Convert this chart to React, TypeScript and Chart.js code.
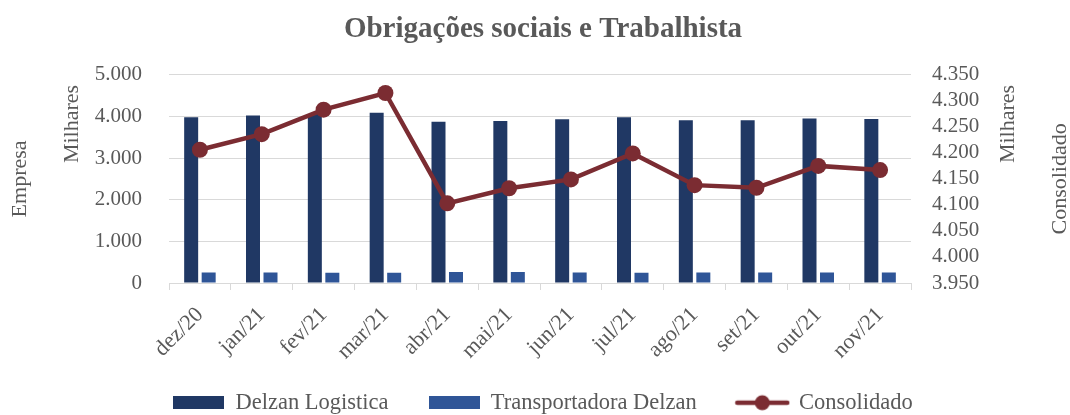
import React, { useEffect, useRef } from 'react';
import { Chart, registerables } from 'chart.js';

Chart.register(...registerables);

const categories = ['dez/20', 'jan/21', 'fev/21', 'mar/21', 'abr/21', 'mai/21', 'jun/21', 'jul/21', 'ago/21', 'set/21', 'out/21', 'nov/21'];
const delzanLogistica = [3980, 4020, 4060, 4090, 3870, 3890, 3930, 3980, 3910, 3910, 3950, 3940];
const transportadoraDelzan = [250, 250, 245, 245, 266, 266, 250, 245, 250, 250, 250, 250];
const consolidado = [4206, 4236, 4283, 4315, 4103, 4132, 4149, 4199, 4138, 4133, 4175, 4167];
const seriesNames = ['Delzan Logistica', 'Transportadora Delzan', 'Consolidado'];
const leftAxisRange = [0, 5000, 1000];
const rightAxisRange = [3950, 4350, 50];
const axisTitles = ['Empresa', 'Milhares', 'Milhares', 'Consolidado'];
const chartTitle = 'Obrigações sociais e Trabalhista';

const COLORS = ['#203864', '#2F5597', '#7B2C32'];
const TEXT = '#595959';
const GRID = '#D9D9D9';
const FONT = "'Liberation Serif', 'Times New Roman', serif";

Chart.defaults.font.family = FONT;
Chart.defaults.color = TEXT;

const fmt = (v: number) => Math.round(v).toString().replace(/\B(?=(\d{3})+(?!\d))/g, '.');

function makeBoxImage(color: string) {
  const c = document.createElement('canvas');
  c.width = 51;
  c.height = 13;
  const g = c.getContext('2d')!;
  g.fillStyle = color;
  g.fillRect(0, 0, 51, 13);
  return c;
}

function makeLineImage(color: string) {
  const c = document.createElement('canvas');
  c.width = 56;
  c.height = 18;
  const g = c.getContext('2d')!;
  g.strokeStyle = color;
  g.lineWidth = 4.5;
  g.lineCap = 'round';
  g.beginPath();
  g.moveTo(3, 9);
  g.lineTo(53, 9);
  g.stroke();
  g.fillStyle = color;
  g.beginPath();
  g.arc(28, 9, 7.5, 0, Math.PI * 2);
  g.fill();
  return c;
}

const sideLabels = {
  id: 'sideLabels',
  afterDraw(chart: any) {
    const { ctx, chartArea } = chart;
    const midY = (chartArea.top + chartArea.bottom) / 2;
    const items: [string, number, number][] = [
      [axisTitles[0], 20, midY],
      [axisTitles[1], 72, 124],
      [axisTitles[2], 1008, 124],
      [axisTitles[3], 1060, midY],
    ];
    ctx.save();
    ctx.font = `22px ${FONT}`;
    ctx.fillStyle = TEXT;
    ctx.textAlign = 'center';
    ctx.textBaseline = 'middle';
    for (const [t, x, y] of items) {
      ctx.save();
      ctx.translate(x, y);
      ctx.rotate(-Math.PI / 2);
      ctx.fillText(t, 0, 0);
      ctx.restore();
    }
    ctx.restore();
  },
};

export default function App() {
  const ref = useRef<HTMLCanvasElement>(null);

  useEffect(() => {
    document.body.style.margin = '0';
    const legendImages = [makeBoxImage(COLORS[0]), makeBoxImage(COLORS[1]), makeLineImage(COLORS[2])];
    const legendPad = 40;
    const legendFont = 22.5;
    const padLeft = 16;
    const chart = new Chart(ref.current!, {
      type: 'bar',
      data: {
        labels: categories,
        datasets: [
          {
            type: 'line',
            label: seriesNames[2],
            data: consolidado,
            yAxisID: 'y1',
            borderColor: COLORS[2],
            backgroundColor: COLORS[2],
            borderWidth: 4.5,
            pointRadius: 8,
            pointBorderWidth: 0,
            pointBackgroundColor: COLORS[2],
            tension: 0,
            order: 0,
          } as any,
          {
            label: seriesNames[0],
            data: delzanLogistica,
            yAxisID: 'y',
            backgroundColor: COLORS[0],
            categoryPercentage: 0.566,
            barPercentage: 0.8,
            order: 1,
          },
          {
            label: seriesNames[1],
            data: transportadoraDelzan,
            yAxisID: 'y',
            backgroundColor: COLORS[1],
            categoryPercentage: 0.566,
            barPercentage: 0.8,
            order: 1,
          },
        ],
      },
      options: {
        responsive: false,
        animation: false,
        layout: { padding: { left: padLeft, right: 0, top: 0, bottom: -9 } },
        plugins: {
          title: {
            display: true,
            text: chartTitle,
            color: TEXT,
            font: { family: FONT, size: 29, weight: 'bold' },
            padding: { top: 12, bottom: 28 },
          },
          legend: {
            position: 'bottom',
            labels: {
              usePointStyle: true,
              pointStyleWidth: 51,
              padding: legendPad,
              color: TEXT,
              font: { family: FONT, size: legendFont },
              sort: (a: any, b: any) => {
                const order = [1, 2, 0];
                return order.indexOf(a.datasetIndex) - order.indexOf(b.datasetIndex);
              },
              generateLabels: (ch: any) => {
                const items = (Chart as any).defaults.plugins.legend.labels.generateLabels(ch);
                return items.map((it: any) => ({
                  ...it,
                  pointStyle: legendImages[it.datasetIndex === 0 ? 2 : it.datasetIndex - 1],
                }));
              },
            },
          },
          tooltip: { enabled: false },
        },
        scales: {
          x: {
            grid: {
              drawOnChartArea: false,
              drawTicks: true,
              tickLength: 7,
              color: GRID,
              offset: true,
            },
            border: { color: GRID },
            ticks: {
              color: TEXT,
              font: { family: FONT, size: 22 },
              minRotation: 45,
              maxRotation: 45,
              autoSkip: false,
              padding: 12,
            },
            afterFit: (s: any) => {
              s.height = 424 - (legendFont + legendPad + 10) - 283;
              // let the rotated labels extend past the (short) axis box without clipping
              s._computeLabelArea = () => undefined;
            },
          },
          y: {
            position: 'left',
            min: leftAxisRange[0],
            max: leftAxisRange[1],
            grid: { color: GRID, drawTicks: false },
            border: { display: false },
            ticks: {
              stepSize: leftAxisRange[2],
              autoSkip: false,
              color: TEXT,
              font: { family: FONT, size: 21 },
              padding: 27,
              callback: (v: any) => fmt(Number(v)),
            },
            afterFit: (s: any) => {
              s.width = 169 - padLeft;
            },
          },
          y1: {
            position: 'right',
            min: rightAxisRange[0],
            max: rightAxisRange[1],
            grid: { display: false, drawTicks: false },
            border: { display: false },
            ticks: {
              stepSize: rightAxisRange[2],
              autoSkip: false,
              color: TEXT,
              font: { family: FONT, size: 21 },
              padding: 21,
              callback: (v: any) => fmt(Number(v)),
            },
            afterFit: (s: any) => {
              s.width = 159;
            },
          },
        },
      },
      plugins: [sideLabels],
    });
    return () => chart.destroy();
  }, []);

  return (
    <div style={{ width: 1070, height: 415, background: '#fff' }}>
      <canvas ref={ref} width={1070} height={415} style={{ display: 'block' }} />
    </div>
  );
}
